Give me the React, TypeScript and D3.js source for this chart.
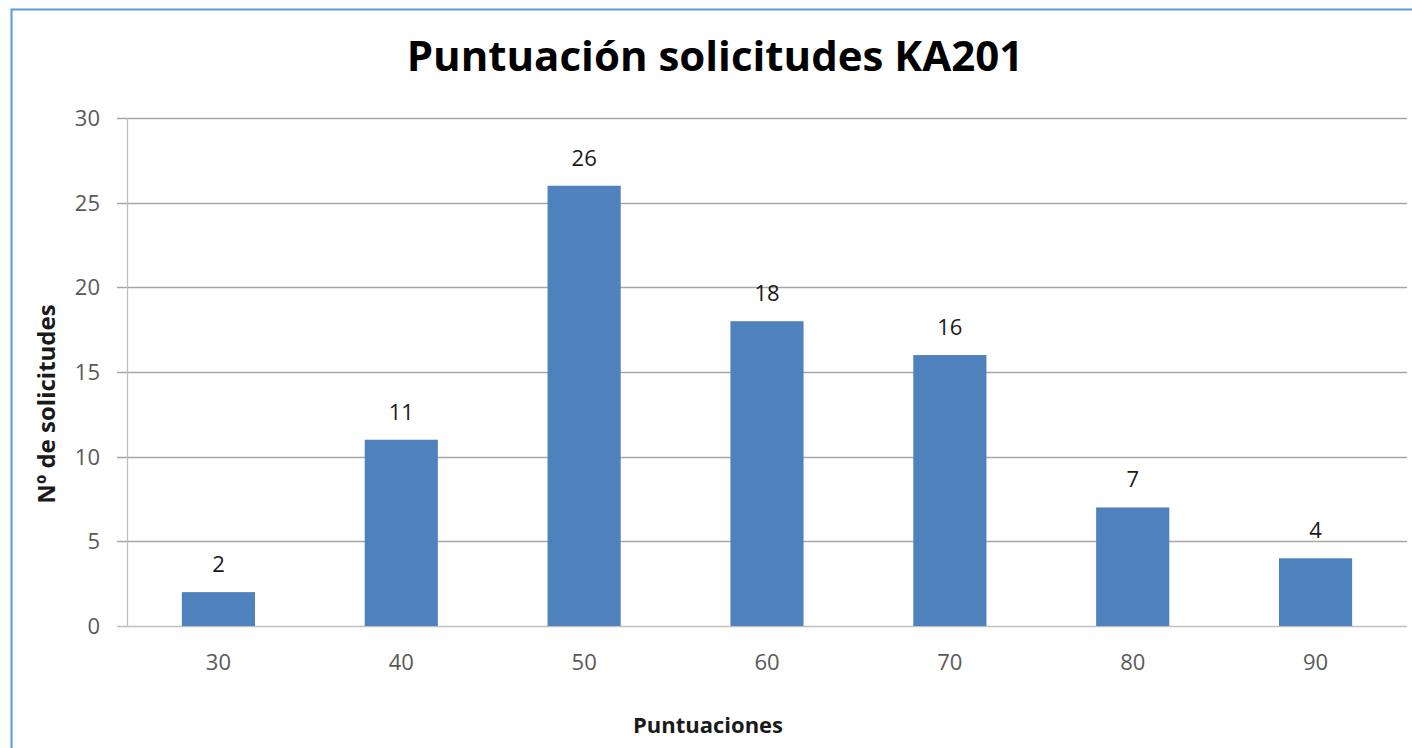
import React, { useEffect, useRef } from 'react';
import * as d3 from 'd3';

const categories = ['30', '40', '50', '60', '70', '80', '90'];
const values = [2, 11, 26, 18, 16, 7, 4];
const yTicks = [0, 5, 10, 15, 20, 25, 30];

const W = 1412;
const H = 748;

const App = () => {
  const ref = useRef<SVGSVGElement>(null);

  useEffect(() => {
    const svg = d3.select(ref.current);
    svg.selectAll('*').remove();

    const left = 127, right = 1407, top = 118, bottom = 626;
    const font = '"Open Sans", "Noto Sans", sans-serif';

    svg.append('rect').attr('width', W).attr('height', H).attr('fill', '#fff');
    // chart frame (only left & top visible)
    svg.append('path')
      .attr('d', `M11.5,${H} V9.5 H${W}`)
      .attr('fill', 'none')
      .attr('stroke', '#5b9bd5')
      .attr('stroke-width', 2);

    const x = d3.scaleBand().domain(categories).range([left, right])
      .paddingInner(0.6).paddingOuter(0.3);
    const y = d3.scaleLinear().domain([0, 30]).range([bottom, top]);

    // gridlines + y ticks
    svg.append('g').selectAll('line').data(yTicks).enter().append('line')
      .attr('x1', left - 10).attr('x2', right)
      .attr('y1', d => Math.round(y(d)) + 0.5).attr('y2', d => Math.round(y(d)) + 0.5)
      .attr('stroke', d => (d === 0 ? '#bfbfbf' : '#a6a6a6'))
      .attr('stroke-width', 1.3);

    svg.append('line')
      .attr('x1', left + 0.5).attr('x2', left + 0.5)
      .attr('y1', top).attr('y2', bottom)
      .attr('stroke', '#bfbfbf').attr('stroke-width', 1.3);

    svg.append('g').selectAll('text').data(yTicks).enter().append('text')
      .attr('x', 100).attr('y', d => y(d) + 8)
      .attr('text-anchor', 'end')
      .attr('font-family', font).attr('font-size', 22).attr('fill', '#595959')
      .text(d => d);

    // bars
    svg.append('g').selectAll('rect').data(values).enter().append('rect')
      .attr('x', (d, i) => x(categories[i])!)
      .attr('y', d => y(d))
      .attr('width', x.bandwidth())
      .attr('height', d => y(0) - y(d))
      .attr('fill', '#4f81bd');

    // value labels
    svg.append('g').selectAll('text').data(values).enter().append('text')
      .attr('x', (d, i) => x(categories[i])! + x.bandwidth() / 2)
      .attr('y', d => y(d) - 20)
      .attr('text-anchor', 'middle')
      .attr('font-family', font).attr('font-size', 22).attr('fill', '#1a1a1a')
      .text(d => d);

    // x labels
    svg.append('g').selectAll('text').data(categories).enter().append('text')
      .attr('x', d => x(d)! + x.bandwidth() / 2)
      .attr('y', 670)
      .attr('text-anchor', 'middle')
      .attr('font-family', font).attr('font-size', 22).attr('fill', '#595959')
      .text(d => d);

    // titles
    svg.append('text')
      .attr('x', 715).attr('y', 71)
      .attr('text-anchor', 'middle')
      .attr('font-family', font).attr('font-size', 42).attr('font-weight', 'bold')
      .attr('fill', '#000')
      .text('Puntuación solicitudes KA201');

    svg.append('text')
      .attr('x', 708).attr('y', 733)
      .attr('text-anchor', 'middle')
      .attr('font-family', font).attr('font-size', 22).attr('font-weight', 'bold')
      .attr('fill', '#1a1a1a')
      .text('Puntuaciones');

    svg.append('text')
      .attr('transform', 'translate(55,404) rotate(-90)')
      .attr('text-anchor', 'middle')
      .attr('font-family', font).attr('font-size', 24).attr('font-weight', 'bold')
      .attr('fill', '#1a1a1a')
      .text('Nº de solicitudes');
  }, []);

  return (
    <svg ref={ref} width={W} height={H}
      style={{ position: 'absolute', left: 0, top: 0, display: 'block' }} />
  );
};

export default App;
